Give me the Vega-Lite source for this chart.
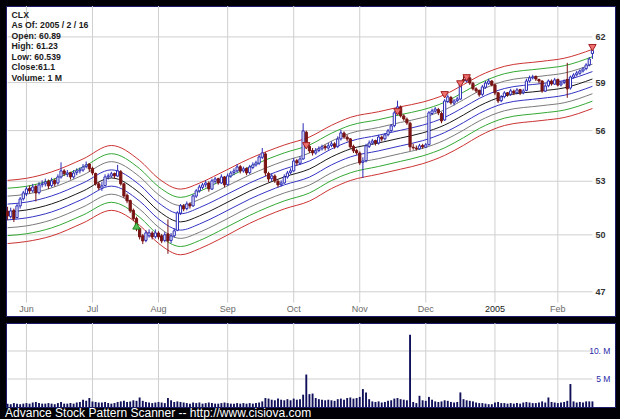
{
"$schema": "https://vega.github.io/schema/vega-lite/v6.json",
"background": "#000006",
"padding": {"left": 5, "top": 5, "right": 6, "bottom": 0},
"spacing": 5,
"config": {"view": {"fill": "white", "stroke": "#1c1c6a"}, "font": "Liberation Sans"},
"title": {"text": "Advance Stock Pattern Scanner -- http://www.cisiova.com", "orient": "bottom", "anchor": "start", "color": "white", "font": "Liberation Sans", "fontSize": 12, "fontWeight": "normal", "offset": 0},
"datasets": {
"px": [
{"d":"2004-05-21","o":51.30,"h":51.55,"l":50.80,"c":51.04,"v":0.6},
{"d":"2004-05-24","o":51.00,"h":51.50,"l":50.90,"c":51.32,"v":0.5},
{"d":"2004-05-25","o":51.35,"h":51.45,"l":50.70,"c":50.88,"v":0.7},
{"d":"2004-05-26","o":50.95,"h":51.70,"l":50.90,"c":51.60,"v":0.6},
{"d":"2004-05-27","o":51.60,"h":52.10,"l":51.45,"c":51.99,"v":0.5},
{"d":"2004-05-28","o":52.00,"h":52.45,"l":51.90,"c":52.33,"v":0.6},
{"d":"2004-06-01","o":52.30,"h":52.70,"l":52.15,"c":52.56,"v":0.7},
{"d":"2004-06-02","o":52.60,"h":52.75,"l":52.30,"c":52.45,"v":0.6},
{"d":"2004-06-03","o":52.45,"h":52.85,"l":52.35,"c":52.67,"v":0.8},
{"d":"2004-06-04","o":52.70,"h":52.80,"l":51.85,"c":52.33,"v":0.9},
{"d":"2004-06-07","o":52.35,"h":52.95,"l":52.25,"c":52.79,"v":0.7},
{"d":"2004-06-08","o":52.80,"h":53.05,"l":52.65,"c":52.85,"v":0.6},
{"d":"2004-06-09","o":52.85,"h":53.15,"l":52.70,"c":52.96,"v":0.6},
{"d":"2004-06-10","o":53.00,"h":53.10,"l":52.55,"c":52.73,"v":0.7},
{"d":"2004-06-14","o":52.75,"h":53.20,"l":52.65,"c":53.02,"v":0.6},
{"d":"2004-06-15","o":53.05,"h":53.15,"l":52.70,"c":52.85,"v":0.5},
{"d":"2004-06-16","o":52.90,"h":53.40,"l":52.80,"c":53.25,"v":0.7},
{"d":"2004-06-17","o":53.25,"h":54.10,"l":53.15,"c":53.60,"v":0.9},
{"d":"2004-06-18","o":53.60,"h":53.70,"l":53.30,"c":53.43,"v":0.6},
{"d":"2004-06-21","o":53.40,"h":53.65,"l":53.25,"c":53.48,"v":0.6},
{"d":"2004-06-22","o":53.50,"h":53.55,"l":53.10,"c":53.25,"v":0.7},
{"d":"2004-06-23","o":53.25,"h":53.65,"l":53.15,"c":53.48,"v":0.6},
{"d":"2004-06-24","o":53.50,"h":53.75,"l":53.35,"c":53.60,"v":0.8},
{"d":"2004-06-25","o":53.60,"h":53.80,"l":53.45,"c":53.66,"v":0.9},
{"d":"2004-06-28","o":53.65,"h":54.00,"l":53.55,"c":53.83,"v":1.3},
{"d":"2004-06-29","o":53.85,"h":54.15,"l":53.75,"c":53.95,"v":1.1},
{"d":"2004-06-30","o":54.00,"h":54.05,"l":53.55,"c":53.72,"v":1.6},
{"d":"2004-07-01","o":53.75,"h":53.85,"l":53.35,"c":53.48,"v":1.0},
{"d":"2004-07-02","o":53.45,"h":53.50,"l":52.75,"c":52.85,"v":0.9},
{"d":"2004-07-06","o":52.85,"h":52.95,"l":52.50,"c":52.62,"v":0.8},
{"d":"2004-07-07","o":52.60,"h":52.95,"l":52.45,"c":52.73,"v":0.8},
{"d":"2004-07-08","o":52.75,"h":53.40,"l":52.70,"c":53.25,"v":0.9},
{"d":"2004-07-09","o":53.25,"h":53.45,"l":53.10,"c":53.31,"v":0.7},
{"d":"2004-07-12","o":53.30,"h":53.55,"l":53.20,"c":53.43,"v":0.6},
{"d":"2004-07-13","o":53.45,"h":53.50,"l":53.15,"c":53.31,"v":0.7},
{"d":"2004-07-14","o":53.30,"h":53.95,"l":53.25,"c":53.60,"v":0.9},
{"d":"2004-07-15","o":53.55,"h":53.65,"l":52.75,"c":52.85,"v":1.0},
{"d":"2004-07-16","o":52.85,"h":52.90,"l":52.05,"c":52.16,"v":1.1},
{"d":"2004-07-19","o":52.20,"h":52.30,"l":51.75,"c":51.88,"v":0.9},
{"d":"2004-07-20","o":51.90,"h":51.95,"l":51.20,"c":51.32,"v":1.0},
{"d":"2004-07-21","o":51.35,"h":51.45,"l":50.75,"c":50.88,"v":1.2},
{"d":"2004-07-22","o":50.90,"h":51.00,"l":50.20,"c":50.33,"v":1.1},
{"d":"2004-07-23","o":50.35,"h":50.40,"l":49.75,"c":49.89,"v":1.7},
{"d":"2004-07-26","o":49.95,"h":50.05,"l":49.50,"c":49.67,"v":1.1},
{"d":"2004-07-27","o":49.70,"h":50.25,"l":49.60,"c":50.11,"v":0.9},
{"d":"2004-07-28","o":49.95,"h":50.30,"l":49.85,"c":50.11,"v":0.8},
{"d":"2004-07-29","o":50.10,"h":50.20,"l":49.75,"c":49.89,"v":0.7},
{"d":"2004-07-30","o":49.90,"h":50.30,"l":49.80,"c":50.11,"v":0.8},
{"d":"2004-08-02","o":50.10,"h":50.20,"l":49.75,"c":49.89,"v":0.9},
{"d":"2004-08-03","o":49.95,"h":50.05,"l":49.55,"c":49.67,"v":0.8},
{"d":"2004-08-04","o":49.70,"h":50.15,"l":49.60,"c":50.00,"v":0.7},
{"d":"2004-08-05","o":50.05,"h":50.85,"l":48.98,"c":49.67,"v":1.6},
{"d":"2004-08-06","o":49.70,"h":50.10,"l":49.55,"c":49.94,"v":1.2},
{"d":"2004-08-09","o":49.95,"h":50.35,"l":49.85,"c":50.22,"v":0.9},
{"d":"2004-08-10","o":50.25,"h":51.30,"l":50.20,"c":51.21,"v":1.0},
{"d":"2004-08-11","o":51.20,"h":51.70,"l":51.10,"c":51.60,"v":0.9},
{"d":"2004-08-12","o":51.60,"h":51.70,"l":51.30,"c":51.43,"v":0.8},
{"d":"2004-08-13","o":51.45,"h":51.85,"l":51.35,"c":51.71,"v":0.7},
{"d":"2004-08-16","o":51.70,"h":51.80,"l":51.45,"c":51.60,"v":0.6},
{"d":"2004-08-17","o":51.60,"h":52.25,"l":51.55,"c":52.16,"v":0.8},
{"d":"2004-08-18","o":52.15,"h":52.55,"l":52.05,"c":52.45,"v":0.7},
{"d":"2004-08-19","o":52.45,"h":52.80,"l":52.35,"c":52.67,"v":0.8},
{"d":"2004-08-20","o":52.65,"h":52.90,"l":52.55,"c":52.79,"v":0.6},
{"d":"2004-08-23","o":52.80,"h":53.05,"l":52.65,"c":52.90,"v":0.7},
{"d":"2004-08-24","o":52.90,"h":53.00,"l":52.40,"c":52.56,"v":0.8},
{"d":"2004-08-25","o":52.55,"h":53.15,"l":52.50,"c":53.02,"v":0.7},
{"d":"2004-08-26","o":53.00,"h":53.25,"l":52.85,"c":53.13,"v":0.6},
{"d":"2004-08-27","o":53.15,"h":53.20,"l":52.80,"c":52.90,"v":0.6},
{"d":"2004-08-30","o":52.90,"h":53.40,"l":52.85,"c":53.25,"v":0.7},
{"d":"2004-08-31","o":53.25,"h":53.30,"l":52.65,"c":52.79,"v":0.8},
{"d":"2004-09-01","o":52.80,"h":53.45,"l":52.75,"c":53.31,"v":0.7},
{"d":"2004-09-02","o":53.30,"h":53.60,"l":53.20,"c":53.48,"v":0.6},
{"d":"2004-09-03","o":53.50,"h":53.75,"l":53.35,"c":53.60,"v":0.6},
{"d":"2004-09-07","o":53.60,"h":54.00,"l":53.50,"c":53.83,"v":0.7},
{"d":"2004-09-08","o":53.85,"h":53.95,"l":53.45,"c":53.60,"v":0.6},
{"d":"2004-09-09","o":53.60,"h":53.85,"l":53.50,"c":53.72,"v":0.7},
{"d":"2004-09-10","o":53.75,"h":53.80,"l":53.35,"c":53.48,"v":0.6},
{"d":"2004-09-13","o":53.50,"h":53.95,"l":53.40,"c":53.83,"v":0.7},
{"d":"2004-09-14","o":53.80,"h":54.10,"l":53.70,"c":53.95,"v":0.6},
{"d":"2004-09-15","o":53.95,"h":54.20,"l":53.85,"c":54.07,"v":0.7},
{"d":"2004-09-16","o":54.05,"h":54.55,"l":53.95,"c":54.42,"v":0.8},
{"d":"2004-09-17","o":54.40,"h":54.95,"l":54.30,"c":54.66,"v":1.0},
{"d":"2004-09-20","o":54.60,"h":54.70,"l":53.30,"c":53.48,"v":1.6},
{"d":"2004-09-21","o":53.45,"h":53.55,"l":52.95,"c":53.13,"v":1.5},
{"d":"2004-09-22","o":53.15,"h":53.45,"l":53.00,"c":53.31,"v":1.3},
{"d":"2004-09-23","o":53.30,"h":53.40,"l":52.90,"c":53.02,"v":1.2},
{"d":"2004-09-24","o":53.00,"h":53.10,"l":52.65,"c":52.79,"v":1.5},
{"d":"2004-09-27","o":52.80,"h":53.05,"l":52.70,"c":52.90,"v":1.3},
{"d":"2004-09-28","o":52.90,"h":53.40,"l":52.85,"c":53.25,"v":1.2},
{"d":"2004-09-29","o":53.25,"h":53.60,"l":53.15,"c":53.48,"v":1.4},
{"d":"2004-09-30","o":53.50,"h":53.75,"l":53.40,"c":53.60,"v":1.2},
{"d":"2004-10-01","o":53.60,"h":54.35,"l":53.55,"c":54.18,"v":1.5},
{"d":"2004-10-04","o":54.20,"h":54.30,"l":53.90,"c":54.07,"v":1.3},
{"d":"2004-10-05","o":54.05,"h":54.45,"l":53.95,"c":54.30,"v":1.4},
{"d":"2004-10-06","o":54.30,"h":56.45,"l":54.25,"c":55.98,"v":2.2},
{"d":"2004-10-07","o":55.90,"h":56.00,"l":54.95,"c":55.08,"v":5.8},
{"d":"2004-10-08","o":55.05,"h":55.15,"l":54.65,"c":54.78,"v":2.3},
{"d":"2004-10-11","o":54.80,"h":54.95,"l":54.50,"c":54.66,"v":2.4},
{"d":"2004-10-12","o":54.65,"h":54.95,"l":54.55,"c":54.78,"v":1.6},
{"d":"2004-10-13","o":54.80,"h":55.05,"l":54.70,"c":54.90,"v":1.4},
{"d":"2004-10-14","o":54.90,"h":55.15,"l":54.80,"c":55.02,"v":1.3},
{"d":"2004-10-15","o":55.05,"h":55.15,"l":54.80,"c":54.96,"v":1.2},
{"d":"2004-10-18","o":54.95,"h":55.25,"l":54.85,"c":55.08,"v":1.3},
{"d":"2004-10-19","o":55.10,"h":55.35,"l":55.00,"c":55.20,"v":1.2},
{"d":"2004-10-20","o":55.20,"h":55.30,"l":54.90,"c":55.02,"v":1.1},
{"d":"2004-10-21","o":55.05,"h":55.65,"l":54.95,"c":55.49,"v":1.4},
{"d":"2004-10-22","o":55.50,"h":56.05,"l":55.40,"c":55.86,"v":1.5},
{"d":"2004-10-25","o":55.85,"h":55.95,"l":55.50,"c":55.61,"v":1.3},
{"d":"2004-10-26","o":55.60,"h":55.75,"l":55.35,"c":55.49,"v":1.6},
{"d":"2004-10-27","o":55.50,"h":55.55,"l":54.90,"c":55.02,"v":1.7},
{"d":"2004-10-28","o":55.05,"h":55.15,"l":54.65,"c":54.78,"v":1.5},
{"d":"2004-10-29","o":54.80,"h":54.90,"l":54.55,"c":54.66,"v":1.6},
{"d":"2004-11-01","o":54.65,"h":54.75,"l":53.95,"c":54.07,"v":1.8},
{"d":"2004-11-02","o":54.10,"h":54.40,"l":53.19,"c":54.18,"v":3.2},
{"d":"2004-11-03","o":54.20,"h":55.20,"l":54.10,"c":55.08,"v":2.6},
{"d":"2004-11-04","o":55.05,"h":55.40,"l":54.95,"c":55.25,"v":1.4},
{"d":"2004-11-05","o":55.25,"h":55.50,"l":55.15,"c":55.37,"v":1.0},
{"d":"2004-11-08","o":55.40,"h":55.45,"l":55.10,"c":55.25,"v":0.9},
{"d":"2004-11-09","o":55.25,"h":55.75,"l":55.15,"c":55.61,"v":1.0},
{"d":"2004-11-10","o":55.60,"h":55.70,"l":55.35,"c":55.49,"v":0.8},
{"d":"2004-11-11","o":55.50,"h":55.85,"l":55.40,"c":55.74,"v":0.9},
{"d":"2004-11-12","o":55.75,"h":56.10,"l":55.65,"c":55.98,"v":1.1},
{"d":"2004-11-15","o":56.00,"h":56.40,"l":55.90,"c":56.29,"v":1.2},
{"d":"2004-11-16","o":56.30,"h":57.20,"l":56.20,"c":57.09,"v":1.5},
{"d":"2004-11-17","o":57.05,"h":57.85,"l":56.95,"c":57.46,"v":1.6},
{"d":"2004-11-18","o":57.45,"h":57.55,"l":56.80,"c":56.90,"v":1.4},
{"d":"2004-11-19","o":56.90,"h":57.00,"l":56.60,"c":56.71,"v":1.3},
{"d":"2004-11-22","o":56.70,"h":56.80,"l":56.35,"c":56.47,"v":1.2},
{"d":"2004-11-23","o":56.45,"h":56.55,"l":54.78,"c":55.02,"v":12.9},
{"d":"2004-11-24","o":55.00,"h":55.20,"l":54.85,"c":54.96,"v":0.9},
{"d":"2004-11-26","o":54.95,"h":55.10,"l":54.80,"c":54.90,"v":0.7},
{"d":"2004-11-29","o":54.90,"h":55.20,"l":54.85,"c":55.08,"v":2.0},
{"d":"2004-11-30","o":55.10,"h":55.20,"l":54.90,"c":55.02,"v":1.2},
{"d":"2004-12-01","o":55.00,"h":55.25,"l":54.95,"c":55.14,"v":1.1},
{"d":"2004-12-02","o":55.15,"h":57.20,"l":55.10,"c":57.09,"v":1.8},
{"d":"2004-12-03","o":57.05,"h":57.35,"l":56.95,"c":57.21,"v":1.3},
{"d":"2004-12-06","o":57.20,"h":57.45,"l":57.10,"c":57.33,"v":1.0},
{"d":"2004-12-07","o":57.30,"h":57.40,"l":56.95,"c":57.09,"v":0.9},
{"d":"2004-12-08","o":57.05,"h":57.15,"l":56.45,"c":56.59,"v":1.0},
{"d":"2004-12-09","o":56.65,"h":57.95,"l":56.60,"c":57.83,"v":1.2},
{"d":"2004-12-10","o":57.80,"h":58.25,"l":57.70,"c":58.09,"v":1.1},
{"d":"2004-12-13","o":58.05,"h":58.15,"l":57.60,"c":57.71,"v":0.9},
{"d":"2004-12-14","o":57.70,"h":57.95,"l":57.55,"c":57.83,"v":0.8},
{"d":"2004-12-15","o":57.85,"h":58.10,"l":57.75,"c":57.96,"v":0.9},
{"d":"2004-12-16","o":57.95,"h":59.00,"l":57.90,"c":58.84,"v":2.6},
{"d":"2004-12-17","o":59.20,"h":59.45,"l":59.00,"c":59.10,"v":1.4},
{"d":"2004-12-20","o":59.10,"h":59.45,"l":59.00,"c":59.23,"v":1.2},
{"d":"2004-12-21","o":59.30,"h":59.40,"l":58.85,"c":58.97,"v":1.1},
{"d":"2004-12-22","o":58.95,"h":59.05,"l":58.50,"c":58.60,"v":1.0},
{"d":"2004-12-23","o":58.60,"h":58.70,"l":58.35,"c":58.47,"v":0.8},
{"d":"2004-12-27","o":58.50,"h":58.55,"l":58.10,"c":58.22,"v":0.7},
{"d":"2004-12-28","o":58.25,"h":58.85,"l":58.15,"c":58.72,"v":0.7},
{"d":"2004-12-29","o":58.70,"h":59.10,"l":58.60,"c":58.97,"v":0.6},
{"d":"2004-12-30","o":58.95,"h":59.25,"l":58.85,"c":59.10,"v":0.5},
{"d":"2004-12-31","o":59.10,"h":59.15,"l":58.75,"c":58.84,"v":0.5},
{"d":"2005-01-03","o":58.85,"h":58.95,"l":58.20,"c":58.34,"v":0.8},
{"d":"2005-01-04","o":58.35,"h":58.40,"l":57.70,"c":57.83,"v":0.9},
{"d":"2005-01-05","o":57.85,"h":58.20,"l":57.75,"c":58.09,"v":0.7},
{"d":"2005-01-06","o":58.10,"h":58.45,"l":58.00,"c":58.34,"v":0.7},
{"d":"2005-01-07","o":58.35,"h":58.40,"l":58.10,"c":58.22,"v":0.6},
{"d":"2005-01-10","o":58.25,"h":58.60,"l":58.15,"c":58.47,"v":0.7},
{"d":"2005-01-11","o":58.45,"h":58.55,"l":58.20,"c":58.34,"v":0.6},
{"d":"2005-01-12","o":58.35,"h":58.65,"l":58.25,"c":58.53,"v":0.7},
{"d":"2005-01-13","o":58.55,"h":58.60,"l":58.20,"c":58.34,"v":0.6},
{"d":"2005-01-14","o":58.35,"h":58.60,"l":58.25,"c":58.47,"v":0.8},
{"d":"2005-01-18","o":58.50,"h":59.25,"l":58.45,"c":59.10,"v":0.9},
{"d":"2005-01-19","o":59.10,"h":59.45,"l":59.00,"c":59.30,"v":0.8},
{"d":"2005-01-20","o":59.30,"h":59.50,"l":59.20,"c":59.36,"v":0.7},
{"d":"2005-01-21","o":59.40,"h":59.45,"l":59.10,"c":59.23,"v":0.7},
{"d":"2005-01-24","o":59.20,"h":59.25,"l":58.95,"c":59.10,"v":0.8},
{"d":"2005-01-25","o":59.10,"h":59.15,"l":58.35,"c":58.47,"v":1.0},
{"d":"2005-01-26","o":58.45,"h":58.90,"l":58.40,"c":58.78,"v":0.8},
{"d":"2005-01-27","o":58.80,"h":59.20,"l":58.70,"c":59.10,"v":1.7},
{"d":"2005-01-28","o":59.10,"h":59.20,"l":58.80,"c":58.91,"v":0.9},
{"d":"2005-01-31","o":58.90,"h":59.30,"l":58.85,"c":59.17,"v":0.8},
{"d":"2005-02-01","o":59.20,"h":59.25,"l":58.75,"c":58.84,"v":0.7},
{"d":"2005-02-02","o":58.85,"h":59.10,"l":58.75,"c":58.97,"v":0.8},
{"d":"2005-02-03","o":59.00,"h":59.20,"l":58.90,"c":59.10,"v":0.9},
{"d":"2005-02-04","o":59.20,"h":60.28,"l":58.03,"c":58.60,"v":1.1},
{"d":"2005-02-07","o":58.65,"h":59.45,"l":58.55,"c":59.36,"v":4.1},
{"d":"2005-02-08","o":59.35,"h":59.60,"l":59.25,"c":59.49,"v":1.0},
{"d":"2005-02-09","o":59.50,"h":59.75,"l":59.40,"c":59.62,"v":0.8},
{"d":"2005-02-10","o":59.60,"h":59.85,"l":59.50,"c":59.75,"v":0.9},
{"d":"2005-02-11","o":59.75,"h":60.00,"l":59.65,"c":59.88,"v":0.8},
{"d":"2005-02-14","o":59.90,"h":60.25,"l":59.80,"c":60.14,"v":1.0},
{"d":"2005-02-15","o":60.15,"h":60.65,"l":60.05,"c":60.53,"v":1.0},
{"d":"2005-02-16","o":60.89,"h":61.23,"l":60.539,"c":61.10,"v":1.0}
],
"bands": [
{"d":"2004-05-21","r1":53.05,"g1":52.60,"k1":52.15,"b1":51.70,"c":51.26,"b2":50.82,"k2":50.39,"g2":49.96,"r2":49.53},
{"d":"2004-06-01","r1":53.17,"g1":52.71,"k1":52.26,"b1":51.81,"c":51.37,"b2":50.93,"k2":50.49,"g2":50.06,"r2":49.64},
{"d":"2004-06-14","r1":53.54,"g1":53.08,"k1":52.62,"b1":52.16,"c":51.71,"b2":51.26,"k2":50.82,"g2":50.38,"r2":49.94},
{"d":"2004-06-28","r1":54.30,"g1":53.83,"k1":53.36,"b1":52.90,"c":52.44,"b2":51.99,"k2":51.54,"g2":51.09,"r2":50.65},
{"d":"2004-07-12","r1":55.10,"g1":54.61,"k1":54.14,"b1":53.66,"c":53.19,"b2":52.72,"k2":52.26,"g2":51.80,"r2":51.35},
{"d":"2004-07-23","r1":54.21,"g1":53.73,"k1":53.26,"b1":52.79,"c":52.33,"b2":51.87,"k2":51.42,"g2":50.97,"r2":50.52},
{"d":"2004-08-02","r1":53.16,"g1":52.69,"k1":52.23,"b1":51.77,"c":51.32,"b2":50.87,"k2":50.42,"g2":49.98,"r2":49.54},
{"d":"2004-08-11","r1":52.55,"g1":52.08,"k1":51.62,"b1":51.16,"c":50.71,"b2":50.26,"k2":49.81,"g2":49.37,"r2":48.93},
{"d":"2004-08-19","r1":52.89,"g1":52.42,"k1":51.96,"b1":51.50,"c":51.04,"b2":50.59,"k2":50.14,"g2":49.69,"r2":49.25},
{"d":"2004-08-27","r1":53.41,"g1":52.94,"k1":52.47,"b1":52.00,"c":51.54,"b2":51.08,"k2":50.63,"g2":50.18,"r2":49.73},
{"d":"2004-09-13","r1":54.32,"g1":53.84,"k1":53.37,"b1":52.90,"c":52.44,"b2":51.98,"k2":51.53,"g2":51.07,"r2":50.63},
{"d":"2004-09-28","r1":55.13,"g1":54.66,"k1":54.18,"b1":53.71,"c":53.25,"b2":52.79,"k2":52.33,"g2":51.88,"r2":51.43},
{"d":"2004-10-08","r1":55.61,"g1":55.13,"k1":54.65,"b1":54.18,"c":53.71,"b2":53.24,"k2":52.78,"g2":52.33,"r2":51.87},
{"d":"2004-10-19","r1":56.32,"g1":55.84,"k1":55.36,"b1":54.89,"c":54.42,"b2":53.95,"k2":53.49,"g2":53.04,"r2":52.58},
{"d":"2004-10-27","r1":56.81,"g1":56.32,"k1":55.84,"b1":55.36,"c":54.89,"b2":54.42,"k2":53.96,"g2":53.49,"r2":53.04},
{"d":"2004-11-09","r1":57.16,"g1":56.67,"k1":56.19,"b1":55.72,"c":55.25,"b2":54.78,"k2":54.32,"g2":53.86,"r2":53.41},
{"d":"2004-11-18","r1":57.47,"g1":56.98,"k1":56.50,"b1":56.02,"c":55.55,"b2":55.08,"k2":54.62,"g2":54.16,"r2":53.70},
{"d":"2004-11-30","r1":57.76,"g1":57.28,"k1":56.80,"b1":56.33,"c":55.86,"b2":55.39,"k2":54.93,"g2":54.48,"r2":54.02},
{"d":"2004-12-09","r1":58.23,"g1":57.75,"k1":57.28,"b1":56.81,"c":56.34,"b2":55.88,"k2":55.42,"g2":54.96,"r2":54.51},
{"d":"2004-12-17","r1":58.87,"g1":58.39,"k1":57.91,"b1":57.43,"c":56.96,"b2":56.49,"k2":56.03,"g2":55.57,"r2":55.11},
{"d":"2004-12-27","r1":59.43,"g1":58.94,"k1":58.47,"b1":57.99,"c":57.52,"b2":57.05,"k2":56.59,"g2":56.13,"r2":55.67},
{"d":"2005-01-06","r1":60.05,"g1":59.57,"k1":59.09,"b1":58.62,"c":58.15,"b2":57.68,"k2":57.22,"g2":56.76,"r2":56.31},
{"d":"2005-01-25","r1":60.38,"g1":59.90,"k1":59.42,"b1":58.94,"c":58.47,"b2":58.00,"k2":57.54,"g2":57.08,"r2":56.62},
{"d":"2005-02-03","r1":60.58,"g1":60.09,"k1":59.61,"b1":59.13,"c":58.66,"b2":58.19,"k2":57.72,"g2":57.26,"r2":56.80},
{"d":"2005-02-16","r1":61.17,"g1":60.68,"k1":60.19,"b1":59.71,"c":59.23,"b2":58.76,"k2":58.29,"g2":57.82,"r2":57.36}
],
"signals": [
{"d":"2004-07-22","p":50.49,"t":"up"},
{"d":"2004-10-07","p":55.08,"t":"down"},
{"d":"2004-11-17","p":57.15,"t":"down"},
{"d":"2004-12-09","p":58.22,"t":"down"},
{"d":"2004-12-16","p":58.91,"t":"down"},
{"d":"2004-12-20","p":59.30,"t":"down"},
{"d":"2005-02-16","p":61.28,"t":"down"}
],
"months": [{"d":"2004-06-01","lab":"Jun"},{"d":"2004-07-01","lab":"Jul"},{"d":"2004-08-02","lab":"Aug"},{"d":"2004-09-01","lab":"Sep"},{"d":"2004-10-01","lab":"Oct"},{"d":"2004-11-01","lab":"Nov"},{"d":"2004-12-01","lab":"Dec"},{"d":"2005-01-03","lab":"2005"},{"d":"2005-02-01","lab":"Feb"}],
"plevels": [{"p":47},{"p":50},{"p":53},{"p":56},{"p":59},{"p":62}],
"vlevels": [{"v":5,"lab":"5 M"},{"v":10,"lab":"10. M"}],
"info": [{"txt": ["CLX","As Of: 2005 / 2 / 16","Open: 60.89","High: 61.23","Low: 60.539","Close:61.1","Volume: 1 M"]}]
},
"vconcat": [
{
"width": 609, "height": 310,
"layer": [
{"data": {"name": "months"}, "mark": {"type": "rule", "color": "#cfcfcf", "strokeWidth": 1},
 "encoding": {"x": {"field": "d", "type": "ordinal", "scale": {"type": "band", "paddingInner": 0, "paddingOuter": 0, "range": [0, 588]}, "axis": null},
  "y": {"datum": 64.12, "type": "quantitative", "scale": {"type": "log", "domain": [45.78, 64.12], "nice": false}, "axis": null},
  "y2": {"datum": 46.45}}},
{"data": {"name": "plevels"}, "mark": {"type": "rule", "color": "#cfcfcf", "strokeWidth": 1},
 "encoding": {"y": {"field": "p", "type": "quantitative", "scale": {"type": "log", "domain": [45.78, 64.12], "nice": false}, "axis": null},
  "x": {"datum": "2004-05-21", "type": "ordinal", "scale": {"type": "band", "paddingInner": 0, "paddingOuter": 0, "range": [0, 588]}, "axis": null},
  "x2": {"datum": "2005-02-16"}}},
{"data": {"name": "bands"}, "transform": [{"fold": ["r1","g1","k1","b1","c","b2","k2","g2","r2"], "as": ["line","price"]}],
 "mark": {"type": "line", "interpolate": "monotone", "strokeWidth": 1},
 "encoding": {"x": {"field": "d", "type": "ordinal", "scale": {"type": "band", "paddingInner": 0, "paddingOuter": 0, "range": [0, 588]}, "axis": null},
  "y": {"field": "price", "type": "quantitative", "scale": {"type": "log", "domain": [45.78, 64.12], "nice": false}, "axis": null},
  "color": {"field": "line", "type": "nominal", "legend": null, "scale": {"domain": ["r1","g1","k1","b1","c","b2","k2","g2","r2"], "range": ["#cc3333","#33a833","#7a7a7a","#3333c4","#1a1a1a","#3333c4","#7a7a7a","#33a833","#cc3333"]}}}},
{"data": {"name": "px"}, "mark": {"type": "rule", "strokeWidth": 1},
 "encoding": {"x": {"field": "d", "type": "ordinal", "scale": {"type": "band", "paddingInner": 0, "paddingOuter": 0, "range": [0, 588]}, "axis": null},
  "y": {"field": "l", "type": "quantitative", "scale": {"type": "log", "domain": [45.78, 64.12], "nice": false}, "axis": null},
  "y2": {"field": "h"},
  "color": {"condition": {"test": "datum.c >= datum.o", "value": "#2a2ab8"}, "value": "#7a1414"}}},
{"data": {"name": "px"}, "mark": {"type": "bar", "width": {"band": 0.7}, "strokeWidth": 1},
 "encoding": {"x": {"field": "d", "type": "ordinal", "scale": {"type": "band", "paddingInner": 0, "paddingOuter": 0, "range": [0, 588]}, "axis": null},
  "y": {"field": "o", "type": "quantitative", "scale": {"type": "log", "domain": [45.78, 64.12], "nice": false}, "axis": null},
  "y2": {"field": "c"},
  "fill": {"condition": {"test": "datum.c >= datum.o", "value": "#ffffff"}, "value": "#7a1414"},
  "stroke": {"condition": {"test": "datum.c >= datum.o", "value": "#2a2ab8"}, "value": "#7a1414"}}},
{"data": {"name": "signals"}, "mark": {"type": "point", "filled": true, "size": 55, "strokeWidth": 1, "opacity": 1},
 "encoding": {"x": {"field": "d", "type": "ordinal", "scale": {"type": "band", "paddingInner": 0, "paddingOuter": 0, "range": [0, 588]}, "axis": null},
  "y": {"field": "p", "type": "quantitative", "scale": {"type": "log", "domain": [45.78, 64.12], "nice": false}, "axis": null},
  "shape": {"field": "t", "type": "nominal", "legend": null, "scale": {"domain": ["down","up"], "range": ["triangle-down","triangle-up"]}},
  "fill": {"field": "t", "type": "nominal", "legend": null, "scale": {"domain": ["down","up"], "range": ["#f07070","#55c055"]}},
  "stroke": {"field": "t", "type": "nominal", "legend": null, "scale": {"domain": ["down","up"], "range": ["#a02020","#208a20"]}}}},
{"data": {"name": "plevels"}, "mark": {"type": "text", "align": "left", "baseline": "middle", "dx": 3, "fontSize": 9, "fontWeight": "bold", "color": "#333333", "font": "Liberation Sans"},
 "encoding": {"y": {"field": "p", "type": "quantitative", "scale": {"type": "log", "domain": [45.78, 64.12], "nice": false}, "axis": null},
  "x": {"datum": "2005-02-16", "type": "ordinal", "scale": {"type": "band", "paddingInner": 0, "paddingOuter": 0, "range": [0, 588]}, "axis": null},
  "text": {"field": "p", "type": "quantitative", "format": "d"}}},
{"data": {"name": "months"}, "mark": {"type": "text", "align": "center", "baseline": "middle", "fontSize": 9, "font": "Liberation Sans"},
 "encoding": {"x": {"field": "d", "type": "ordinal", "scale": {"type": "band", "paddingInner": 0, "paddingOuter": 0, "range": [0, 588]}, "axis": null},
  "y": {"datum": 46.11, "type": "quantitative", "scale": {"type": "log", "domain": [45.78, 64.12], "nice": false}, "axis": null},
  "text": {"field": "lab", "type": "nominal"},
  "color": {"condition": {"test": "datum.lab == '2005'", "value": "#1a1a1a"}, "value": "#6a6a6a"},
  "fontWeight": {"condition": {"test": "datum.lab == '2005'", "value": "bold"}, "value": "normal"}}},
{"data": {"name": "info"}, "mark": {"type": "text", "align": "left", "baseline": "top", "dx": 4, "dy": 4.5, "fontSize": 8.7, "fontWeight": "bold", "color": "#1a1a1a", "lineHeight": 10.5, "font": "Liberation Sans"},
 "encoding": {"x": {"datum": "2004-05-21", "type": "ordinal", "scale": {"type": "band", "paddingInner": 0, "paddingOuter": 0, "range": [0, 588]}, "axis": null},
  "y": {"datum": 64.12, "type": "quantitative", "scale": {"type": "log", "domain": [45.78, 64.12], "nice": false}, "axis": null},
  "text": {"field": "txt"}}}
]
},
{
"width": 609, "height": 84,
"layer": [
{"data": {"name": "months"}, "mark": {"type": "rule", "color": "#cfcfcf", "strokeWidth": 1},
 "encoding": {"x": {"field": "d", "type": "ordinal", "scale": {"type": "band", "paddingInner": 0, "paddingOuter": 0, "range": [0, 588]}, "axis": null}}},
{"data": {"name": "vlevels"}, "mark": {"type": "rule", "color": "#cfcfcf", "strokeWidth": 1},
 "encoding": {"y": {"field": "v", "type": "quantitative", "scale": {"domain": [0, 15], "nice": false}, "axis": null},
  "x": {"datum": "2004-05-21", "type": "ordinal", "scale": {"type": "band", "paddingInner": 0, "paddingOuter": 0, "range": [0, 588]}, "axis": null},
  "x2": {"datum": "2005-02-16"}}},
{"data": {"name": "px"}, "mark": {"type": "bar", "width": {"band": 0.6}, "color": "#10105a"},
 "encoding": {"x": {"field": "d", "type": "ordinal", "scale": {"type": "band", "paddingInner": 0, "paddingOuter": 0, "range": [0, 588]}, "axis": null},
  "y": {"field": "v", "type": "quantitative", "scale": {"domain": [0, 15], "nice": false}, "axis": null}}},
{"data": {"name": "vlevels"}, "mark": {"type": "text", "align": "right", "baseline": "middle", "dx": 18, "fontSize": 8.5, "color": "#2a2aa8", "font": "Liberation Sans"},
 "encoding": {"y": {"field": "v", "type": "quantitative", "scale": {"domain": [0, 15], "nice": false}, "axis": null},
  "x": {"datum": "2005-02-16", "type": "ordinal", "scale": {"type": "band", "paddingInner": 0, "paddingOuter": 0, "range": [0, 588]}, "axis": null},
  "text": {"field": "lab", "type": "nominal"}}}
]
}
]
}
